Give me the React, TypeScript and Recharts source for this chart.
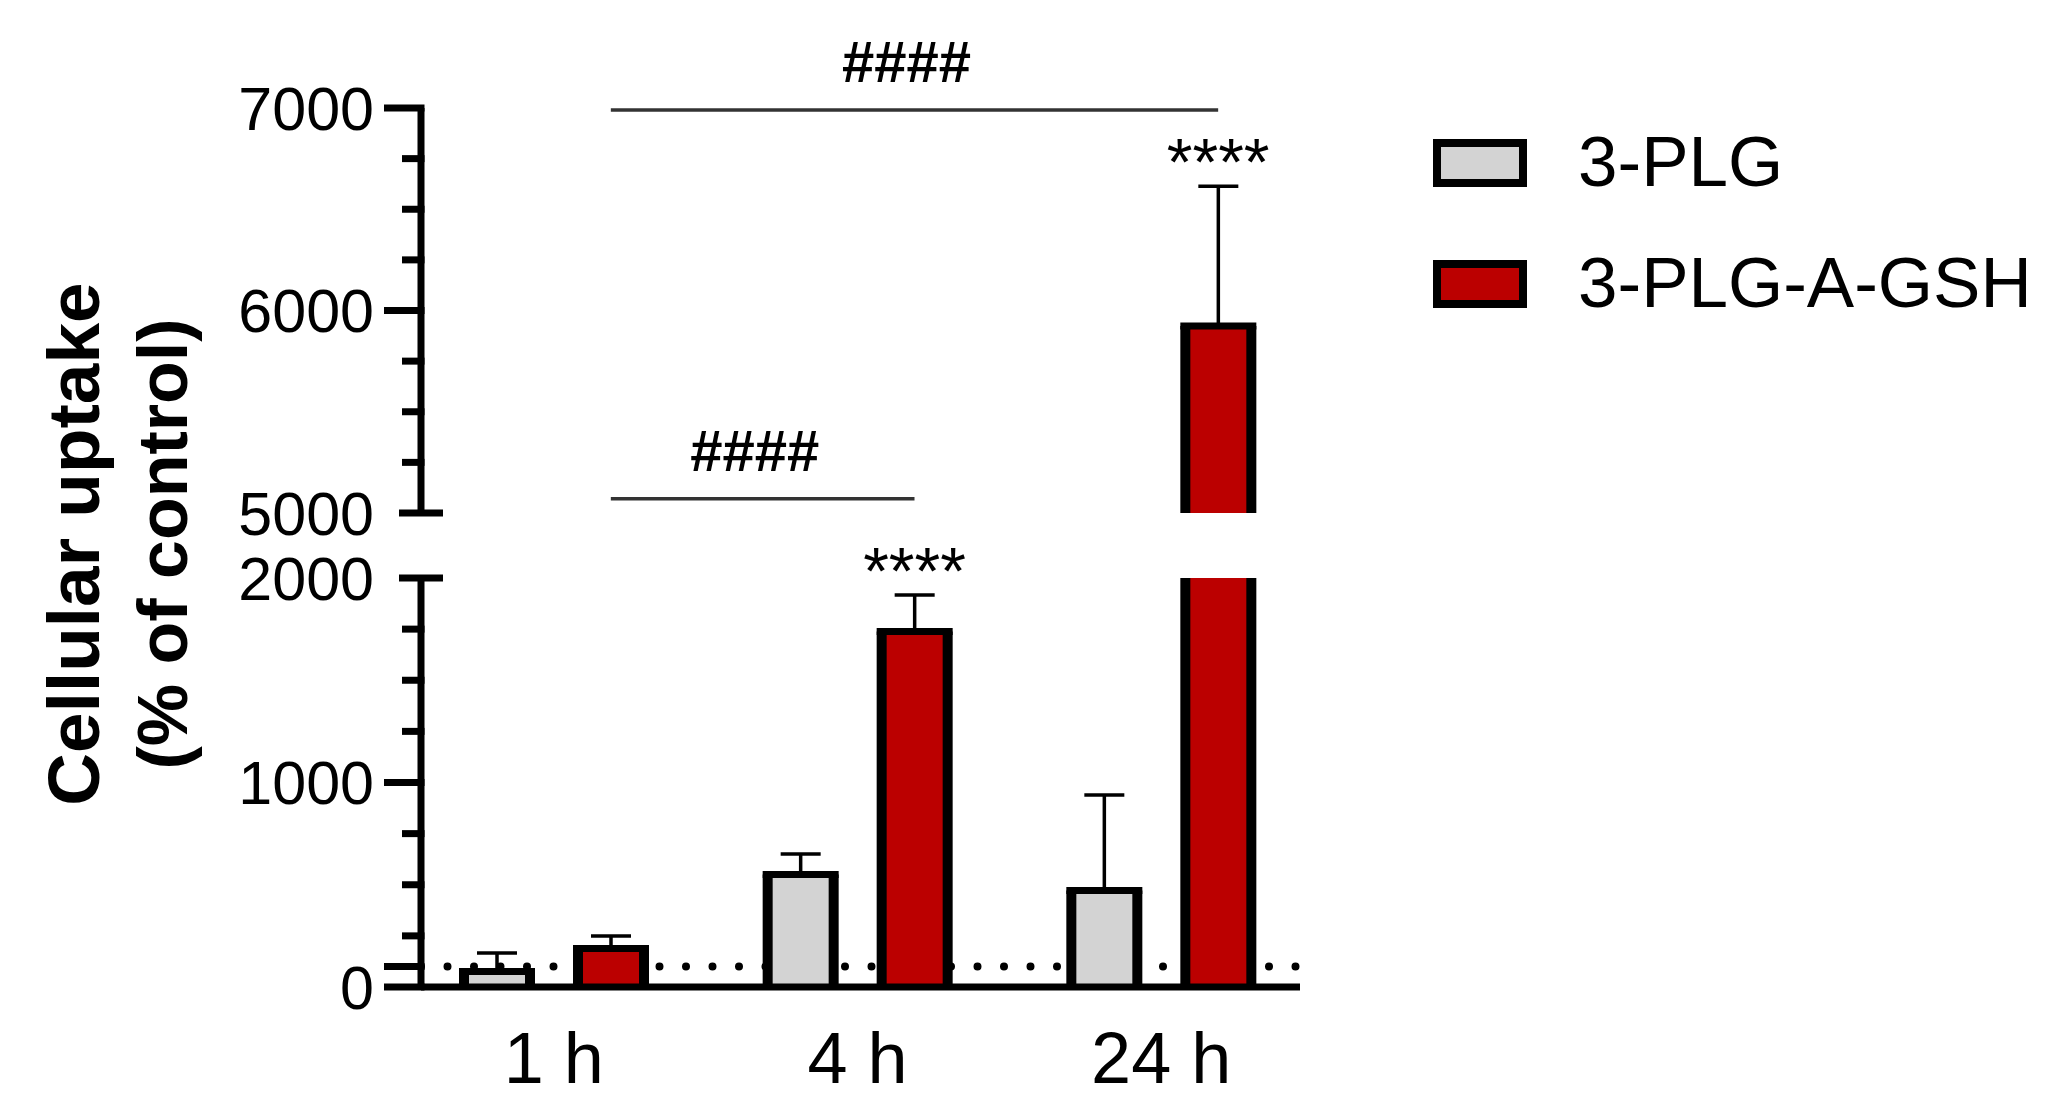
import React from 'react';
import { BarChart, Bar, XAxis, YAxis, ErrorBar, ReferenceLine, ReferenceDot, Legend } from 'recharts';

const timePoints = ['1 h', '4 h', '24 h'];
const plgMean = [76, 550, 472];
const plgSem = [90, 100, 467];
const gshMean = [188, 1738, 5923];
const gshSem = [61, 179, 690];
const gshStars = ['', '****', '****'];
const controlLevel = 100;

const lowerDomain = [0, 2000];
const upperDomain = [5000, 7000];
const lowerTicks = [0, 100, 250, 500, 750, 1000, 1250, 1500, 1750, 2000];
const upperTicks = [5000, 5250, 5500, 5750, 6000, 6250, 6500, 6750, 7000];
const labelledTicks = [0, 1000, 2000, 5000, 6000, 7000];

const bracketFrom = ['1 h', '1 h'];
const bracketTo = ['4 h', '24 h'];
const bracketLevel = [5070, 6990];
const bracketText = ['####', '####'];

const FONT = '"Liberation Sans", Arial, sans-serif';
const BAR_SIZE = 66;
const BAR_GAP = 48;
const RED_SHIFT = (BAR_SIZE + BAR_GAP) / 2;
const X_PADDING = { left: -19, right: -13 };

// one row per time point, keeping only what shows inside a panel
const panelRows = (domain: number[]) =>
  timePoints.map((time, i) => {
    const plgShown = plgMean[i] > domain[0];
    const gshShown = gshMean[i] > domain[0];
    return {
      time,
      plg: plgShown ? plgMean[i] : null,
      plgErr: plgShown && plgMean[i] + plgSem[i] <= domain[1] ? [0, plgSem[i]] : null,
      gsh: gshShown ? gshMean[i] : null,
      gshErr: gshShown && gshMean[i] + gshSem[i] <= domain[1] ? [0, gshSem[i]] : null,
    };
  });

const panelStars = (domain: number[]) =>
  timePoints
    .map((time, i) => ({ time, text: gshStars[i], level: gshMean[i] + gshSem[i] }))
    .filter((s) => s.text && s.level > domain[0] && s.level <= domain[1]);

const OutlinedBar = (props: any) => {
  const { x, y, width, height, fill } = props;
  if (x == null || y == null || !width || !height) return null;
  const bottom = y + height;
  return (
    <g>
      <rect x={x} y={y} width={width} height={height} fill={fill} />
      <line x1={x} y1={bottom} x2={x} y2={y} stroke="#000" strokeWidth={10} />
      <line x1={x + width} y1={bottom} x2={x + width} y2={y} stroke="#000" strokeWidth={10} />
      <line x1={x - 5} y1={y} x2={x + width + 5} y2={y} stroke="#000" strokeWidth={7} />
    </g>
  );
};

const makeYTick = (breakValue: number) => (props: any) => {
  const { x, y, payload } = props;
  const v = payload.value;
  const labelled = labelledTicks.includes(v);
  const major = labelled || v === controlLevel;
  return (
    <g>
      {v === breakValue ? (
        <line x1={x - 22} x2={x + 22} y1={y} y2={y} stroke="#000" strokeWidth={7} />
      ) : (
        <line x1={x - (major ? 37 : 19)} x2={x + 3.5} y1={y} y2={y} stroke="#000" strokeWidth={7} />
      )}
      {labelled && (
        <text x={x - 47} y={y} dy="0.36em" textAnchor="end" fontSize={61} fontFamily={FONT} fill="#000">
          {v}
        </text>
      )}
    </g>
  );
};

const XTick = (props: any) => {
  const { x, y, payload } = props;
  return (
    <text x={x} y={y + 96} textAnchor="middle" fontSize={72} fontFamily={FONT} fill="#000">
      {payload.value}
    </text>
  );
};

const StarShape = (text: string) => (props: any) => (
  <text x={props.cx + RED_SHIFT} y={props.cy - 1} textAnchor="middle" fontSize={66} fontFamily={FONT} fill="#000">
    {text}
  </text>
);

const BracketShape = (text: string) => (props: any) => {
  const { x1, y1, x2 } = props;
  const a = x1 + RED_SHIFT;
  const b = x2 + RED_SHIFT;
  return (
    <g>
      <line x1={a} x2={b} y1={y1} y2={y1} stroke="#333" strokeWidth={3.5} />
      <text
        x={(a + b) / 2 - 8}
        y={y1 - 28}
        textAnchor="middle"
        fontSize={58}
        fontWeight="bold"
        fontFamily={FONT}
        fill="#000"
      >
        {text}
      </text>
    </g>
  );
};

const LegendContent = ({ payload }: any) => (
  <svg width={640} height={220}>
    {(payload || []).map((entry: any, i: number) => (
      <g key={entry.value}>
        <rect x={17} y={23 + i * 121} width={86} height={40} fill={entry.color} stroke="#000" strokeWidth={8} />
        <text x={158} y={66 + i * 121} fontSize={71} fontFamily={FONT} fill="#000">
          {entry.value}
        </text>
      </g>
    ))}
  </svg>
);

const series = () => [
  <Bar key="plg" dataKey="plg" name="3-PLG" fill="#d3d3d3" shape={OutlinedBar} isAnimationActive={false}>
    <ErrorBar dataKey="plgErr" width={20} strokeWidth={3.5} stroke="#000" isAnimationActive={false} />
  </Bar>,
  <Bar key="gsh" dataKey="gsh" name="3-PLG-A-GSH" fill="#bb0000" shape={OutlinedBar} isAnimationActive={false}>
    <ErrorBar dataKey="gshErr" width={20} strokeWidth={3.5} stroke="#000" isAnimationActive={false} />
  </Bar>,
];

const LOWER_TOP = 520;
const LOWER_H = 594;

const App = () => {
  const upperRows = panelRows(upperDomain);
  const lowerRows = panelRows(lowerDomain);
  return (
    <div style={{ position: 'absolute', left: 0, top: 0, width: 2071, height: 1114, background: '#fff' }}>
      {/* control level drawn in its own layer so the bars cover the dots */}
      <div style={{ position: 'absolute', left: 0, top: LOWER_TOP }}>
        <BarChart width={2071} height={LOWER_H} data={lowerRows} margin={{ top: 58, right: 771, bottom: 127, left: 421 }}>
          <XAxis dataKey="time" hide padding={X_PADDING} />
          <YAxis hide domain={lowerDomain} allowDataOverflow />
          <ReferenceLine
            y={controlLevel}
            stroke="#000"
            strokeWidth={8}
            strokeDasharray="0 26.5"
            strokeLinecap="round"
          />
        </BarChart>
      </div>
      <div style={{ position: 'absolute', left: 0, top: 0 }}>
        <BarChart
          width={2071}
          height={560}
          data={upperRows}
          margin={{ top: 108, right: 771, bottom: 47, left: 221 }}
          barSize={BAR_SIZE}
          barGap={BAR_GAP}
        >
          <XAxis dataKey="time" hide padding={X_PADDING} />
          <YAxis
            width={200}
            domain={upperDomain}
            allowDataOverflow
            ticks={upperTicks}
            interval={0}
            tickLine={false}
            tickSize={0}
            tickMargin={0}
            axisLine={{ stroke: '#000', strokeWidth: 7 }}
            tick={makeYTick(upperDomain[0])}
          />
          {series()}
          {bracketText.map((text, i) => (
            <ReferenceLine
              key={'br' + i}
              segment={[
                { x: bracketFrom[i], y: bracketLevel[i] },
                { x: bracketTo[i], y: bracketLevel[i] },
              ]}
              ifOverflow="visible"
              shape={BracketShape(text)}
            />
          ))}
          {panelStars(upperDomain).map((s) => (
            <ReferenceDot key={s.time} x={s.time} y={s.level} ifOverflow="visible" shape={StarShape(s.text)} />
          ))}
          <Legend
            layout="vertical"
            align="center"
            verticalAlign="middle"
            wrapperStyle={{ left: 1420, top: 120, width: 640, height: 220 }}
            content={LegendContent}
          />
        </BarChart>
      </div>
      <div style={{ position: 'absolute', left: 0, top: LOWER_TOP }}>
        <BarChart
          width={2071}
          height={LOWER_H}
          data={lowerRows}
          margin={{ top: 58, right: 771, bottom: 27, left: 221 }}
          barSize={BAR_SIZE}
          barGap={BAR_GAP}
        >
          <XAxis
            dataKey="time"
            padding={X_PADDING}
            height={100}
            interval={0}
            tickLine={false}
            tickSize={0}
            tickMargin={0}
            axisLine={{ stroke: '#000', strokeWidth: 7 }}
            tick={XTick}
          />
          <YAxis
            width={200}
            domain={lowerDomain}
            allowDataOverflow
            ticks={lowerTicks}
            interval={0}
            tickLine={false}
            tickSize={0}
            tickMargin={0}
            axisLine={{ stroke: '#000', strokeWidth: 7 }}
            tick={makeYTick(lowerDomain[1])}
          />
          {series()}
          {panelStars(lowerDomain).map((s) => (
            <ReferenceDot key={s.time} x={s.time} y={s.level} ifOverflow="visible" shape={StarShape(s.text)} />
          ))}
        </BarChart>
      </div>
      <svg style={{ position: 'absolute', left: 0, top: 0 }} width={260} height={1114}>
        <text transform="translate(99,544) rotate(-90)" textAnchor="middle" fontSize={73} fontWeight="bold" fontFamily={FONT} fill="#000">
          Cellular uptake
        </text>
        <text transform="translate(187,544) rotate(-90)" textAnchor="middle" fontSize={70} fontWeight="bold" fontFamily={FONT} fill="#000">
          (% of control)
        </text>
      </svg>
    </div>
  );
};

export default App;
